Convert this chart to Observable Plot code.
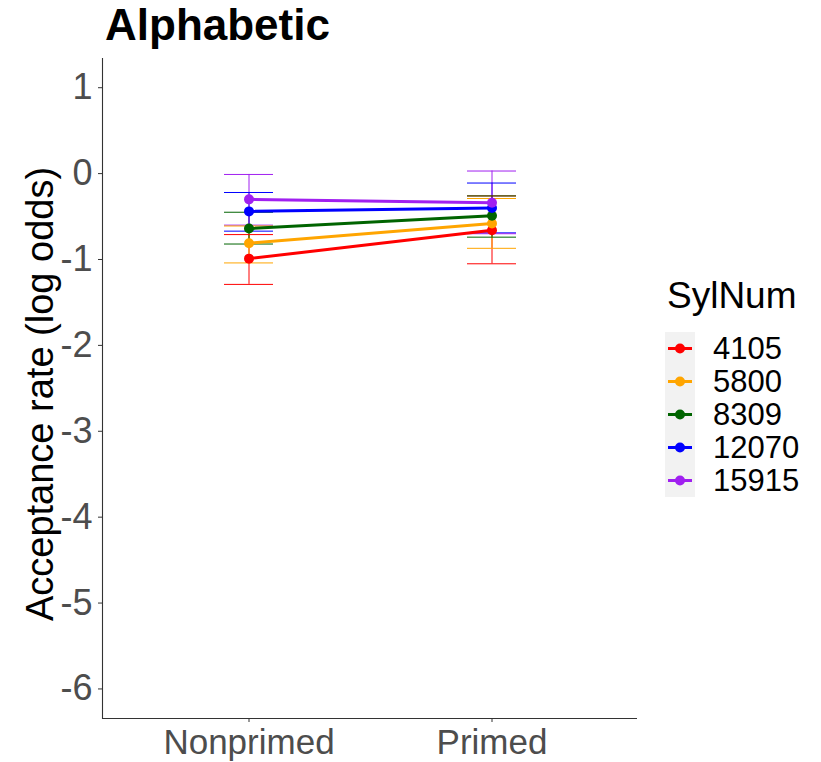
<!DOCTYPE html>
<html>
<head>
<meta charset="utf-8">
<script src="https://cdn.jsdelivr.net/npm/d3@7"></script>
<script src="https://cdn.jsdelivr.net/npm/@observablehq/plot@0.6"></script>
<style>
  html, body { margin: 0; padding: 0; background: #fff; }
  #wrap { position: relative; width: 821px; height: 762px; font-family: "Liberation Sans", Arial, sans-serif; overflow: hidden; }
  #title { position: absolute; left: 105px; top: 3px; font-size: 44px; font-weight: bold; line-height: 44px; color: #000; }
  #ytitle { position: absolute; left: 40px; top: 394px; transform: translate(-50%, -50%) rotate(-90deg); white-space: nowrap; font-size: 38px; line-height: 38px; color: #000; }
  #legend { position: absolute; left: 665px; top: 276px; }
  #legend .lt { font-size: 37px; line-height: 40px; color: #000; margin-left: 2px; }
  #legend .items { position: relative; margin-top: 16px; }
  #legend .row { display: flex; align-items: center; height: 33px; }
  #legend .key { width: 30px; height: 33px; background: #f2f2f2; }
  #legend .lab { font-size: 31px; line-height: 33px; margin-left: 18px; color: #000; }
  #chart { position: absolute; left: 0; top: 0; }
</style>
</head>
<body>
<div id="wrap">
  <div id="chart"></div>
  <div id="title">Alphabetic</div>
  <div id="ytitle">Acceptance rate (log odds)</div>
  <div id="legend"></div>
</div>
<script>
const conditions = ["Nonprimed", "Primed"];
const sylNums = ["4105", "5800", "8309", "12070", "15915"];
const colors = ["red", "orange", "#006400", "blue", "#A020F0"];
const estNonprimed = [-0.99, -0.81, -0.64, -0.44, -0.30];
const estPrimed    = [-0.66, -0.58, -0.49, -0.40, -0.34];
const lowNonprimed = [-1.29, -1.04, -0.82, -0.67, -0.60];
const lowPrimed    = [-1.05, -0.87, -0.74, -0.69, -0.70];
const upNonprimed  = [-0.71, -0.61, -0.45, -0.22, -0.01];
const upPrimed     = [-0.26, -0.29, -0.26, -0.11, 0.03];
const yTicks = [-6, -5, -4, -3, -2, -1, 0, 1];
const yDomain = [-6.344, 1.34];

const rows = [];
sylNums.forEach((s, i) => {
  rows.push({cond: conditions[0], syl: s, est: estNonprimed[i], lo: lowNonprimed[i], hi: upNonprimed[i]});
  rows.push({cond: conditions[1], syl: s, est: estPrimed[i], lo: lowPrimed[i], hi: upPrimed[i]});
});

const chart = Plot.plot({
  width: 821,
  height: 762,
  marginLeft: 102,
  marginRight: 184,
  marginTop: 58,
  marginBottom: 44,
  style: {fontFamily: "Liberation Sans, Arial, sans-serif", background: "white", overflow: "visible"},
  x: {type: "band", domain: conditions, paddingInner: 0.8, paddingOuter: 0.5, label: null},
  y: {domain: yDomain, label: null},
  color: {domain: sylNums, range: colors},
  marks: [
    Plot.ruleX(rows, {x: "cond", y1: "lo", y2: "hi", stroke: "syl", strokeWidth: 1}),
    Plot.tickY(rows, {x: "cond", y: "lo", stroke: "syl", strokeWidth: 1}),
    Plot.tickY(rows, {x: "cond", y: "hi", stroke: "syl", strokeWidth: 1}),
    Plot.line(rows, {x: "cond", y: "est", z: "syl", stroke: "syl", strokeWidth: 3}),
    Plot.dot(rows, {x: "cond", y: "est", fill: "syl", r: 5}),
    Plot.axisY({ticks: yTicks, tickFormat: d => String(d), fontSize: 36, tickSize: 4, tickPadding: 6, color: "#4d4d4d", stroke: "#333", label: null}),
    Plot.axisX({fontSize: 35, tickSize: 4, tickPadding: 7, color: "#4d4d4d", stroke: "#333", label: null}),
    Plot.ruleY([yDomain[0]], {stroke: "#333", strokeWidth: 1.1}),
    Plot.frame({anchor: "left", stroke: "#333", strokeWidth: 1.1})
  ]
});
document.getElementById("chart").appendChild(chart);

// legend
const leg = d3.select("#legend");
leg.append("div").attr("class", "lt").text("SylNum");
const items = leg.append("div").attr("class", "items");
sylNums.forEach((s, i) => {
  const row = items.append("div").attr("class", "row");
  const key = row.append("div").attr("class", "key");
  const svg = key.append("svg").attr("width", 30).attr("height", 33);
  svg.append("line").attr("x1", 3).attr("x2", 27).attr("y1", 16.5).attr("y2", 16.5)
     .attr("stroke", colors[i]).attr("stroke-width", 3);
  svg.append("circle").attr("cx", 15).attr("cy", 16.5).attr("r", 5).attr("fill", colors[i]);
  row.append("div").attr("class", "lab").text(s);
});
</script>
</body>
</html>
